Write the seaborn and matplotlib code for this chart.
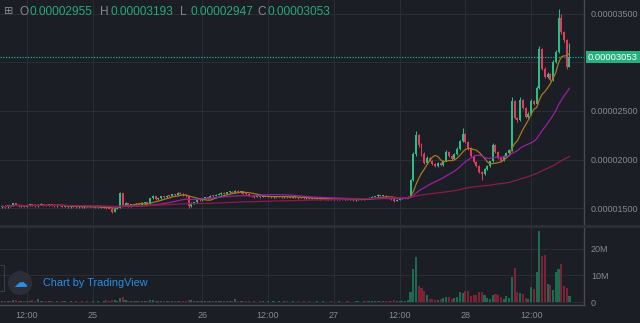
import numpy as np
import pandas as pd
import matplotlib
matplotlib.use("Agg")
import matplotlib.pyplot as plt
import seaborn as sns
from matplotlib.patches import Rectangle, Ellipse, FancyBboxPatch
from matplotlib.lines import Line2D

# ---------------- data (prices in 1e-8 units, volume in millions) ----------------
SAT = 1e-8
open_sat = [
    1515,1520,1510,1530,1525,1550,1535,1520,1530,1515,
    1525,1540,1530,1520,1535,1545,1530,1525,1540,1530,
    1520,1530,1525,1515,1520,1510,1515,1520,1510,1515,
    1510,1520,1512,1515,1515,1510,1512,1505,1510,1500,
    1495,1465,1495,1505,1655,1530,1555,1520,1540,1530,
    1545,1530,1555,1560,1548,1600,1625,1590,1600,1620,
    1610,1630,1625,1645,1640,1660,1650,1640,1625,1520,
    1555,1560,1585,1580,1600,1610,1605,1630,1625,1640,
    1645,1660,1650,1665,1670,1660,1680,1665,1675,1650,
    1645,1625,1620,1615,1620,1615,1625,1618,1620,1612,
    1625,1615,1620,1610,1622,1615,1605,1618,1612,1603,
    1610,1600,1606,1598,1602,1596,1600,1592,1598,1590,
    1595,1588,1592,1585,1595,1588,1592,1585,1590,1582,
    1590,1595,1590,1600,1595,1605,1615,1620,1635,1625,
    1630,1615,1600,1590,1575,1585,1595,1605,1610,1615,
    1790,2060,2250,2150,2060,1960,2020,1990,1950,1935,
    1960,1940,1990,2080,2040,2010,2060,2110,2190,2260,
    2180,2120,2040,1970,1930,1870,1850,1900,1930,1980,
    2150,2080,2020,1990,2040,2070,2100,2600,2430,2410,
    2610,2530,2440,2470,2600,2570,2740,3140,2930,2850,
    2880,2820,3000,3110,3460,3310,3230,2955,
]
high_sat = [
    1525,1528,1535,1535,1555,1552,1540,1535,1532,1530,
    1545,1542,1535,1540,1550,1548,1535,1545,1542,1532,
    1535,1532,1528,1525,1522,1520,1525,1522,1518,1518,
    1524,1522,1518,1520,1518,1515,1515,1512,1512,1505,
    1500,1498,1510,1665,1660,1560,1558,1545,1542,1550,
    1548,1560,1568,1562,1605,1635,1628,1605,1625,1625,
    1635,1635,1650,1650,1665,1665,1655,1645,1628,1560,
    1568,1590,1590,1605,1615,1615,1635,1632,1645,1652,
    1665,1662,1670,1680,1675,1690,1682,1680,1678,1655,
    1648,1630,1625,1625,1625,1630,1628,1625,1622,1630,
    1628,1625,1622,1628,1625,1618,1622,1620,1615,1615,
    1612,1610,1608,1606,1604,1604,1602,1602,1600,1600,
    1598,1596,1594,1600,1598,1596,1594,1594,1592,1594,
    1600,1598,1605,1602,1610,1620,1628,1645,1640,1638,
    1632,1618,1605,1592,1590,1600,1610,1615,1620,1800,
    2080,2290,2260,2170,2080,2035,2030,2000,1960,1970,
    1970,2000,2100,2090,2050,2070,2125,2200,2320,2270,
    2190,2130,2050,1980,1940,1880,1910,1945,1990,2170,
    2160,2090,2030,2050,2080,2110,2640,2610,2440,2640,
    2620,2540,2490,2620,2610,2760,3170,3150,2950,2900,
    2890,3020,3130,3550,3500,3320,3240,3193,
]
low_sat = [
    1505,1500,1505,1515,1520,1528,1512,1515,1508,1510,
    1520,1525,1512,1515,1530,1525,1518,1520,1525,1512,
    1515,1518,1508,1510,1505,1505,1510,1505,1505,1502,
    1505,1508,1508,1508,1505,1505,1500,1500,1495,1490,
    1455,1460,1490,1500,1520,1525,1510,1515,1522,1525,
    1522,1525,1548,1540,1545,1595,1580,1585,1595,1600,
    1605,1615,1620,1630,1635,1645,1630,1615,1505,1515,
    1548,1555,1572,1575,1595,1598,1600,1615,1620,1635,
    1640,1645,1645,1660,1655,1655,1660,1660,1645,1635,
    1620,1612,1608,1610,1608,1610,1612,1612,1605,1608,
    1608,1610,1602,1605,1608,1600,1600,1605,1598,1600,
    1595,1595,1592,1594,1590,1592,1588,1590,1585,1586,
    1582,1584,1580,1582,1582,1584,1580,1580,1576,1578,
    1585,1585,1585,1590,1590,1600,1610,1615,1620,1620,
    1610,1595,1585,1565,1570,1580,1590,1600,1605,1610,
    1780,2040,2130,2040,1950,1950,1980,1940,1925,1925,
    1930,1930,1985,2030,2000,2000,2050,2100,2180,2170,
    2100,2030,1960,1920,1860,1790,1840,1890,1920,1970,
    2070,2010,1980,1980,2030,2060,2090,2420,2390,2400,
    2520,2430,2430,2460,2560,2560,2730,2920,2840,2840,
    2810,2810,2990,3100,3290,3210,2930,2947,
]
close_sat = [
    1520,1510,1530,1525,1550,1535,1520,1530,1515,1525,
    1540,1530,1520,1535,1545,1530,1525,1540,1530,1520,
    1530,1525,1515,1520,1510,1515,1520,1510,1515,1510,
    1520,1512,1515,1515,1510,1512,1505,1510,1500,1495,
    1465,1495,1505,1655,1530,1555,1520,1540,1530,1545,
    1530,1555,1560,1548,1600,1625,1590,1600,1620,1610,
    1630,1625,1645,1640,1660,1650,1640,1625,1520,1555,
    1560,1585,1580,1600,1610,1605,1630,1625,1640,1645,
    1660,1650,1665,1670,1660,1680,1665,1675,1650,1645,
    1625,1620,1615,1620,1615,1625,1618,1620,1612,1625,
    1615,1620,1610,1622,1615,1605,1618,1612,1603,1610,
    1600,1606,1598,1602,1596,1600,1592,1598,1590,1595,
    1588,1592,1585,1595,1588,1592,1585,1590,1582,1590,
    1595,1590,1600,1595,1605,1615,1620,1635,1625,1630,
    1615,1600,1590,1575,1585,1595,1605,1610,1615,1790,
    2060,2250,2150,2060,1960,2020,1990,1950,1935,1960,
    1940,1990,2080,2040,2010,2060,2110,2190,2260,2180,
    2120,2040,1970,1930,1870,1850,1900,1930,1980,2150,
    2080,2020,1990,2040,2070,2100,2600,2430,2410,2610,
    2530,2440,2470,2600,2570,2740,3140,2930,2850,2880,
    2820,3000,3110,3460,3310,3230,2955,3053,
]
volume_m = [
    0.4,0.3,0.5,0.3,0.6,0.9,0.4,0.3,0.5,0.3,
    0.4,0.6,0.5,1.2,0.4,0.3,0.5,0.3,0.5,0.2,
    0.3,0.2,0.3,0.4,0.2,0.3,0.2,0.3,0.2,0.3,
    0.2,0.3,0.2,0.3,0.2,0.3,0.2,0.4,0.9,0.5,
    0.6,0.7,0.5,1.5,1.8,0.6,0.5,0.4,0.3,0.3,
    0.4,0.3,0.5,0.4,0.8,0.9,0.5,0.4,0.3,0.4,
    0.3,0.5,0.4,0.3,0.4,0.3,0.5,0.4,0.9,0.6,
    0.4,0.5,0.3,0.4,0.3,0.5,0.4,0.3,0.4,0.3,
    0.5,0.3,0.4,0.3,0.4,1.2,0.4,0.5,0.3,0.4,
    0.3,0.2,0.3,0.2,0.3,0.4,0.2,0.3,0.2,0.3,
    0.2,0.3,0.2,0.3,0.4,0.2,0.3,0.2,0.3,0.2,
    0.3,0.2,0.3,0.2,0.2,0.3,0.2,0.3,0.2,0.2,
    0.3,0.2,0.2,0.3,0.2,0.2,0.3,0.2,0.2,0.3,
    0.3,0.2,0.4,0.3,0.5,0.4,0.3,0.5,0.4,0.3,
    0.4,0.5,0.4,0.6,0.4,0.3,0.4,0.5,0.6,3.8,
    12.2,16.8,6.0,5.3,4.0,2.6,1.2,1.0,0.9,0.8,
    1.0,1.4,1.9,2.0,1.2,1.6,2.0,3.6,3.4,4.0,
    4.0,2.4,2.5,2.8,3.7,3.6,2.8,1.6,1.2,2.8,
    3.1,2.7,1.9,1.3,2.4,1.5,9.4,12.8,3.6,3.4,
    3.1,1.7,1.0,5.8,4.8,11.3,26.5,17.3,17.8,6.6,
    6.4,4.6,11.4,12.5,14.4,6.1,5.1,2.3,
]
tick_index = [9, 33, 73, 97, 121, 145, 169, 193]
tick_labels = ["12:00", "25", "26", "12:00", "27", "12:00", "28", "12:00"]
price_ticks_sat = [1500, 2000, 2500, 3000, 3500]
vol_ticks_m = [0, 10, 20]
ma_periods = [9, 25, 99]
header = [("O", "0.00002955"), ("H", "0.00003193"), ("L", "0.00002947"), ("C", "0.00003053")]
last_price_sat = 3053

# ---------------- style ----------------
BG = "#1b1e24"
GRID = "#2a2d35"
AXLINE = "#474a53"
TXT = "#868993"
UP = "#2bbd85"
DN = "#e6395d"
VUP = "#1e6a4f"
VDN = "#7b2236"
MA_COLS = ["#a47a1c", "#9d1fa3", "#8a1c4c"]
HGREEN = "#29a97a"

sns.set_theme(style="darkgrid", rc={
    "axes.facecolor": BG, "figure.facecolor": BG, "grid.color": GRID,
    "grid.linewidth": 0.8, "axes.edgecolor": AXLINE,
})
plt.rcParams["font.family"] = ["Liberation Sans", "DejaVu Sans"]

W, H = 640, 323
def fx(px): return px / W
def fy(py): return 1 - py / H

fig = plt.figure(figsize=(6.4, 3.23), dpi=100)
ax = fig.add_axes([0, fy(225), fx(584), fy(0) - fy(225)])
axv = fig.add_axes([0, fy(305), fx(584), fy(227) - fy(305)])

o = np.array(open_sat, float)
h = np.array(high_sat, float)
l = np.array(low_sat, float)
c = np.array(close_sat, float)
n = len(c)
x = np.arange(n)
up = c >= o
cols = np.where(up, UP, DN)

# candles
ax.vlines(x, l * SAT, h * SAT, colors=cols, lw=0.75, zorder=3)
body_lo = np.minimum(o, c)
body_h = np.maximum(np.abs(c - o), 8)
ax.bar(x, body_h * SAT, bottom=body_lo * SAT, width=0.72, color=cols, linewidth=0, zorder=4)

# moving averages
cs = pd.Series(c)
for per, col in zip(ma_periods, MA_COLS):
    ma = cs.rolling(per, min_periods=1).mean().values * SAT
    sns.lineplot(x=x, y=ma, color=col, lw=0.9, ax=ax, zorder=5)

ax.axhline(last_price_sat * SAT, color="#26a69a", lw=0.9, ls=(0, (1, 1.2)), zorder=6)

ax.set_xlim(-0.8, 212.3)
ax.set_ylim(1327 * SAT, 3640 * SAT)
ax.set_yticks([p * SAT for p in price_ticks_sat])
# the 0.00003000 label sits under the last-price tag in the reference
ax.set_yticklabels(["" if p == 3000 else f"{p * SAT:.8f}" for p in price_ticks_sat])
ax.yaxis.tick_right()
ax.tick_params(axis="y", length=0, pad=5, labelsize=6.5, labelcolor=TXT)
ax.set_xticks(tick_index)
ax.tick_params(axis="x", length=0, labelbottom=False)
ax.set_xlabel(""); ax.set_ylabel("")
for s in ["left", "top", "bottom"]:
    ax.spines[s].set_visible(False)
ax.spines["right"].set_color(AXLINE)
ax.spines["right"].set_linewidth(1)
ax.grid(True, color=GRID, lw=0.8)

# volume
dfv = pd.DataFrame({"idx": x, "vol": volume_m, "dir": np.where(up, "up", "down")})
sns.barplot(data=dfv, x="idx", y="vol", hue="dir", palette={"up": VUP, "down": VDN},
            native_scale=True, dodge=False, width=0.75, saturation=1, legend=False,
            errorbar=None, linewidth=0, ax=axv)
axv.set_xlim(-0.8, 212.3)
axv.set_ylim(-1.1, 28.1)
axv.set_yticks(vol_ticks_m)
axv.set_yticklabels(["0" if v == 0 else f"{v}M" for v in vol_ticks_m])
axv.yaxis.tick_right()
axv.tick_params(axis="y", length=0, pad=5, labelsize=6.5, labelcolor=TXT)
axv.set_xticks(tick_index)
axv.set_xticklabels(tick_labels)
axv.tick_params(axis="x", length=0, pad=4, labelsize=6.5, labelcolor=TXT)
axv.set_xlabel(""); axv.set_ylabel("")
for s in ["left", "top"]:
    axv.spines[s].set_visible(False)
for s in ["right", "bottom"]:
    axv.spines[s].set_color(AXLINE)
    axv.spines[s].set_linewidth(1)
axv.grid(True, color=GRID, lw=0.8)

# panel separator
fig.add_artist(Line2D([0, 1], [fy(226), fy(226)], color="#2c2f37", lw=2))

# header
fig.text(fx(9), fy(11), "⊞", color=TXT, fontsize=8, family=["DejaVu Sans"], ha="center", va="center")
letter_x = [19, 100, 180, 257]
for (lab, val), lx in zip(header, letter_x):
    fig.text(fx(lx), fy(12), lab, color=TXT, fontsize=8.6, va="center", ha="left")
    fig.text(fx(lx + 10.5), fy(12), val, color=HGREEN, fontsize=8.6, va="center", ha="left")

# last price tag
fig.add_artist(FancyBboxPatch((fx(586), fy(63)), fx(54), fy(51) - fy(63),
                              boxstyle="square,pad=0", fc="#27b07f", ec="none", zorder=20))
fig.text(fx(613), fy(57), f"{last_price_sat * SAT:.8f}", color="white", fontsize=6.8,
         ha="center", va="center", zorder=21)

# watermark
fig.add_artist(Rectangle((fx(-4), fy(291)), fx(8), fy(265) - fy(291), fc="none", ec="#3a3d45", lw=0.8))
fig.add_artist(Ellipse((fx(20), fy(283)), fx(24), 24 / H, fc="#2b2e36", ec="none"))
fig.text(fx(20), fy(283), "☁", color="#2a8ee6", fontsize=10, family=["DejaVu Sans"],
         ha="center", va="center")
fig.text(fx(43), fy(283), "Chart by TradingView", color="#2a8ee6", fontsize=7.8,
         ha="left", va="center")

fig.savefig("out.png", dpi=100, facecolor=BG)
